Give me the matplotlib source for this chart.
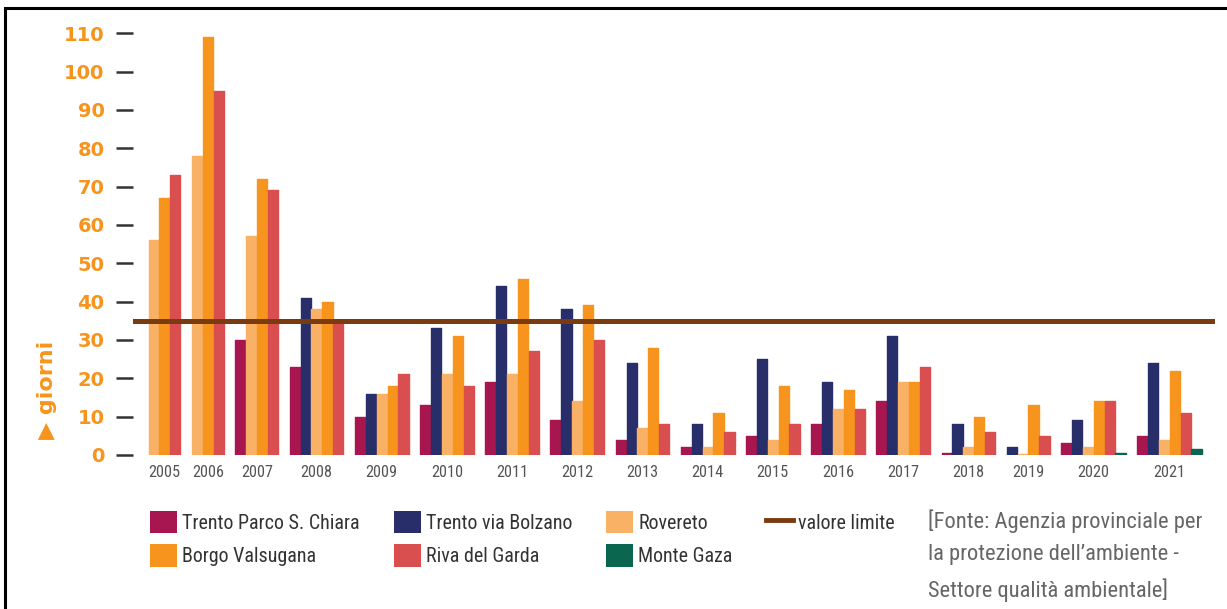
import numpy as np
import matplotlib
matplotlib.use('Agg')
import matplotlib.pyplot as plt
from matplotlib import font_manager
from matplotlib.patches import Patch, Rectangle
from matplotlib.lines import Line2D

# pick a condensed face if one is installed
names = {f.name for f in font_manager.fontManager.ttflist}
cond_dejavu = any(f.name == 'DejaVu Sans' and 'ondensed' in f.fname
                  for f in font_manager.fontManager.ttflist)
if 'Liberation Sans Narrow' in names:
    FONT, STRETCH, FS = 'Liberation Sans Narrow', 'normal', 15
elif 'Roboto Condensed' in names:
    FONT, STRETCH, FS = 'Roboto Condensed', 'normal', 13.5
elif cond_dejavu:
    FONT, STRETCH, FS = 'DejaVu Sans', 'condensed', 12.3
else:
    FONT, STRETCH, FS = 'DejaVu Sans', 'normal', 11

# dati: giorni di superamento per stazione
anni = ['2005', '2006', '2007', '2008', '2009', '2010', '2011', '2012', '2013',
        '2014', '2015', '2016', '2017', '2018', '2019', '2020', '2021']
parco = [None, None, 30, 23, 10, 13, 19, 9, 4, 2, 5, 8, 14, 0.5, None, 3, 5]
bolzano = [None, None, None, 41, 16, 33, 44, 38, 24, 8, 25, 19, 31, 8, 2, 9, 24]
rovereto = [56, 78, 57, 38, 16, 21, 21, 14, 7, 2, 4, 12, 19, 2, 0.3, 2, 4]
borgo = [67, 109, 72, 40, 18, 31, 46, 39, 28, 11, 18, 17, 19, 10, 13, 14, 22]
riva = [73, 95, 69, 35, 21, 18, 27, 30, 8, 6, 8, 12, 23, 6, 5, 14, 11]
gaza = [None] * 15 + [0.5, 1.5]
valore_limite = 35

stazioni = ['Trento Parco S. Chiara', 'Trento via Bolzano', 'Rovereto',
            'Borgo Valsugana', 'Riva del Garda', 'Monte Gaza']
serie = [parco, bolzano, rovereto, borgo, riva, gaza]
colori = ['#A8164F', '#272E6A', '#F9B165', '#F7941E', '#D94E4E', '#0B6650']
col_limite = '#7A3B10'
arancio = '#F7941D'

fig = plt.figure(figsize=(12.27, 6.09), dpi=100)
W, H = 1227, 609
ax = fig.add_axes([133 / W, 1 - 455 / H, (1215 - 133) / W, (455 - 14) / H])

# posizioni: le barre presenti sono contigue, un posto vuoto tra gli anni
pos = 0
xs = [[] for _ in serie]
hs = [[] for _ in serie]
centri = []
for j in range(len(anni)):
    start = pos
    for i, s in enumerate(serie):
        if s[j] is not None:
            xs[i].append(pos + 0.5)
            hs[i].append(s[j])
            pos += 1
    centri.append((start + pos) / 2)
    pos += 1

for i in range(len(serie)):
    bars = ax.bar(xs[i], hs[i], width=0.94, color=colori[i], edgecolor=colori[i],
                  linewidth=1.0, zorder=2)
    for b in bars:
        b.set_joinstyle('round')

ax.axhline(valore_limite, color=col_limite, lw=3.6, zorder=3)

ax.set_xlim(-1.4, pos - 1 + 1.2)
ax.set_ylim(0, 115)
ax.set_yticks(range(0, 111, 10))
ax.set_xticks(centri)
ax.set_xticklabels(anni, family=FONT, stretch=STRETCH, fontsize=FS * 0.87, color='#555555')
ax.tick_params(axis='x', length=0, pad=7)
ax.tick_params(axis='y', direction='out', length=12.5, width=1.8, color='#333333',
               pad=8, labelcolor=arancio, labelsize=14)
for lbl in ax.get_yticklabels():
    lbl.set_fontweight('bold')
for sp in ax.spines.values():
    sp.set_visible(False)

fig.text(47 / W, 1 - 390 / H, '\u25B6 giorni', rotation=90, ha='center', va='center',
         color=arancio, fontsize=16, fontweight='bold')

# legenda (riempita per colonne)
fs_leg = FS * 1.07
px = fs_leg * 100 / 72
ordine = [0, 3, 1, 4, 2, 5]
handles = [Patch(facecolor=colori[k], edgecolor='none') for k in ordine]
labels = [stazioni[k] for k in ordine]
handles.append(Line2D([], [], color=col_limite, lw=3.5))
labels.append('valore limite')
leg = fig.legend(handles, labels, loc='upper left', bbox_to_anchor=(150 / W, 1 - 511 / H),
                 ncol=4, frameon=False, borderpad=0, borderaxespad=0,
                 handlelength=27 / px, handleheight=27 / px, handletextpad=5 / px,
                 columnspacing=34 / px, labelspacing=11 / px,
                 prop=font_manager.FontProperties(family=FONT, stretch=STRETCH, size=fs_leg))
for t in leg.get_texts():
    t.set_color('#333333')

fig.text(928 / W, 1 - 509 / H,
         "[Fonte: Agenzia provinciale per\nla protezione dell\u2019ambiente -\nSettore qualità ambientale]",
         ha='left', va='top', color='#666666', family=FONT, stretch=STRETCH,
         fontsize=FS * 1.2, linespacing=1.7)

# cornice
fig.add_artist(Rectangle((5 / W, -0.05), 1.1, 1 - 8 / H + 0.05, transform=fig.transFigure,
                         fill=False, ec='black', lw=2.2))

fig.savefig('out.png', dpi=100)
